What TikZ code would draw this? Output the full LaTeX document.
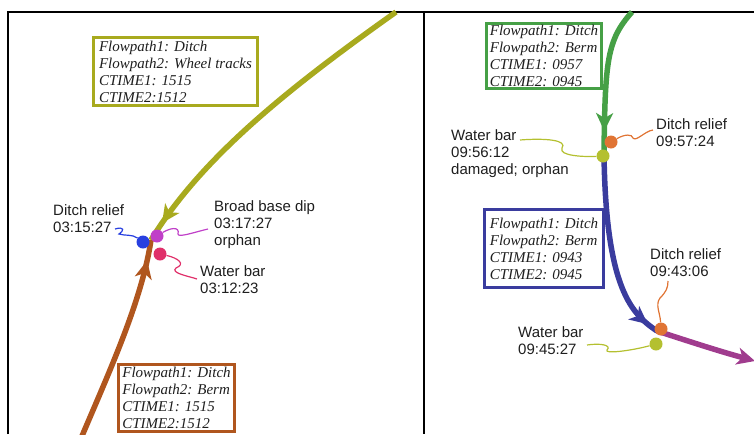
\documentclass[tikz,border=0pt]{standalone}
\usepackage{fontspec}
\setmainfont{Liberation Serif}
\setsansfont{Liberation Sans}
\usetikzlibrary{positioning,arrows.meta,decorations.markings}
\definecolor{ink}{HTML}{1E1E1E}
\definecolor{oliveline}{HTML}{A8AA1E}
\definecolor{brownline}{HTML}{B0561E}
\definecolor{greenline}{HTML}{46A046}
\definecolor{navyline}{HTML}{3A3C9E}
\definecolor{plumline}{HTML}{A03C8E}
\definecolor{reliefblue}{HTML}{2840E0}
\definecolor{dipmag}{HTML}{C040C8}
\definecolor{barred}{HTML}{E0306A}
\definecolor{reliefor}{HTML}{E07434}
\definecolor{baryel}{HTML}{B4C030}

\begin{document}
\begin{tikzpicture}[x=1pt,y=-1pt,
  lbl/.style={font=\sffamily\fontsize{15}{17}\selectfont,text=ink,align=left,inner sep=0pt,anchor=north west},
  tag/.style={draw=#1,line width=2.5pt,font=\itshape\fontsize{15}{17}\selectfont,text=ink,align=left,inner sep=0pt},
  spot/.style={circle,fill=#1,inner sep=0pt,minimum size=13pt},
  flow/.style={draw=#1,line width=5.5pt},
  wiggle/.style={draw=#1,line width=1.2pt},
  midtip/.style={postaction={decorate},decoration={markings,mark=at position #1 with {\arrow{Stealth[length=18pt,width=17pt,inset=5pt]}}}}]
  \useasboundingbox (0,0) rectangle (754,434);
  % frame of the two panels
  \draw[line width=2.5pt] (8,434) -- (8,12) -- (754,12);
  \draw[line width=1.6pt] (424,12) -- (424,434);

  % left panel
  \node[tag=oliveline,minimum width=164pt,minimum height=68pt] (b1) at (175.5,71.5) {Flowpath1: Ditch\\Flowpath2: Wheel tracks\\CTIME1: 1515\\CTIME2:1512};
  \node[tag=brownline,minimum width=116pt,minimum height=67pt] (b2) at (176.5,398) {Flowpath1: Ditch\\Flowpath2: Berm\\CTIME1: 1515\\CTIME2:1512};
  \coordinate (ot) at (396,12);
  \coordinate (bb) at (82,436);
  \coordinate (jl) at (151,240);
  \draw[flow=oliveline,midtip=.94] (ot) .. controls (283,92) and (200,160) .. (jl);
  \draw[flow=brownline,midtip=.9] (bb) .. controls (110,370) and (142,300) .. (jl);
  \node[spot=reliefblue] (dr1) at (143,242) {};
  \node[spot=dipmag] (bd1) at (157,236) {};
  \node[spot=barred] (wb1) at (160,254) {};
  \node[lbl] (l1) at (53,204) {Ditch relief\\03:15:27};
  \node[lbl] (l2) at (214,200) {Broad base dip\\03:17:27\\orphan};
  \node[lbl] (l3) at (200,265) {Water bar\\03:12:23};
  \coordinate (s1) at (115,229);
  \coordinate (s2) at (208,229);
  \coordinate (s3) at (197,279);
  \draw[wiggle=reliefblue] (s1) .. controls (125,226) and (124,231) .. (119,234) .. controls (125,236) and (132,234) .. (dr1);
  \draw[wiggle=dipmag] (bd1) .. controls (170,228) and (180,226) .. (178,234) .. controls (178,238) and (195,232) .. (s2);
  \draw[wiggle=barred] (wb1) .. controls (178,258) and (186,264) .. (176,268) .. controls (170,273) and (188,276) .. (s3);

  % right panel
  \node[tag=greenline,minimum width=115pt,minimum height=65pt] (b3) at (544,56) {Flowpath1: Ditch\\Flowpath2: Berm\\CTIME1: 0957\\CTIME2: 0945};
  \node[tag=navyline,minimum width=119pt,minimum height=78pt] (b4) at (544,248.5) {Flowpath1: Ditch\\Flowpath2: Berm\\CTIME1: 0943\\CTIME2: 0945};
  \coordinate (gt) at (632,12);
  \coordinate (jr) at (604,155);
  \coordinate (jb) at (657,331);
  \coordinate (pe) at (755,361);
  \draw[flow=greenline,midtip=.84] (gt) .. controls (607,40) and (605,60) .. (jr);
  \draw[flow=navyline,midtip=.94] (jr) .. controls (606,290) and (632,314) .. (jb);
  \draw[flow=plumline,-{Stealth[length=18pt,width=17pt,inset=5pt]}] (jb) .. controls (685,340) and (715,350) .. (pe);
  \node[spot=reliefor] (dr2) at (611,142) {};
  \node[spot=baryel] (wb2) at (603,156) {};
  \node[spot=reliefor] (dr3) at (661,329) {};
  \node[spot=baryel] (wb3) at (656,344) {};
  \node[lbl] (r1) at (451,129) {Water bar\\09:56:12\\damaged; orphan};
  \node[lbl] (r2) at (656,118) {Ditch relief\\09:57:24};
  \node[lbl] (r3) at (650,248) {Ditch relief\\09:43:06};
  \node[lbl] (r4) at (518,326) {Water bar\\09:45:27};
  \coordinate (s4) at (520,140);
  \coordinate (s5) at (653,130);
  \coordinate (s6) at (668,281);
  \coordinate (s7) at (587,345);
  \draw[wiggle=baryel] (s4) .. controls (545,138) and (568,140) .. (562,148) .. controls (558,156) and (585,157) .. (wb2);
  \draw[wiggle=reliefor] (dr2) .. controls (625,134) and (632,134) .. (633,138) .. controls (636,142) and (645,131) .. (s5);
  \draw[wiggle=reliefor] (dr3) .. controls (660,312) and (655,305) .. (660,298) .. controls (666,292) and (668,288) .. (s6);
  \draw[wiggle=baryel] (s7) .. controls (600,343) and (612,345) .. (607,350) .. controls (604,354) and (630,351) .. (wb3);
\end{tikzpicture}
\end{document}
